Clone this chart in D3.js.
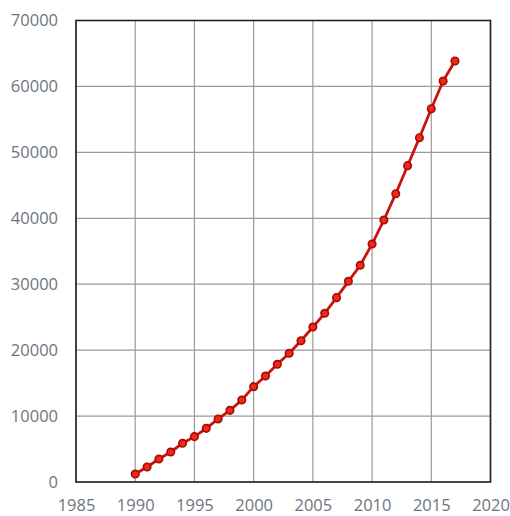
<html>
<script src='https://d3js.org/d3.v7.min.js'></script>
<style>
body {margin: 0; background: #fff;}
.tick text {font-family: 'Open Sans', sans-serif; font-size: 16.5px; fill: #6e7480;}
</style>
<body onload='init()'>
<svg width=510 height=516></svg>
<script>
var years = [1990, 1991, 1992, 1993, 1994, 1995, 1996, 1997, 1998, 1999,
             2000, 2001, 2002, 2003, 2004, 2005, 2006, 2007, 2008, 2009,
             2010, 2011, 2012, 2013, 2014, 2015, 2016, 2017];
var values = [1210, 2280, 3490, 4550, 5870, 6880, 8140, 9560, 10870, 12440,
              14460, 16080, 17850, 19520, 21430, 23500, 25590, 27960, 30440, 32870,
              36100, 39740, 43730, 47980, 52220, 56620, 60820, 63850];
var xTicks = [1985, 1990, 1995, 2000, 2005, 2010, 2015, 2020];
var yTicks = [0, 10000, 20000, 30000, 40000, 50000, 60000, 70000];

function init() {
    var left = 76, top = 20.5;
    var width = 414.5, height = 461.5;

    var x = d3.scaleLinear([1985, 2020], [0, width]);
    var y = d3.scaleLinear([0, 70000], [height, 0]);

    var svg = d3.select('svg');
    var g = svg.append('g').attr('transform', 'translate(' + left + ',' + top + ')');

    // grid
    g.selectAll('.vg').data(xTicks).enter().append('line')
        .attr('x1', d => x(d)).attr('x2', d => x(d))
        .attr('y1', 0).attr('y2', height)
        .attr('stroke', '#9a9a9a').attr('stroke-width', 1.2);
    g.selectAll('.hg').data(yTicks).enter().append('line')
        .attr('y1', d => y(d)).attr('y2', d => y(d))
        .attr('x1', 0).attr('x2', width)
        .attr('stroke', '#9a9a9a').attr('stroke-width', 1.2);

    g.append('rect').attr('width', width).attr('height', height)
        .attr('fill', 'none').attr('stroke', '#222').attr('stroke-width', 1.6);

    var xAxis = d3.axisBottom(x).tickValues(xTicks).tickFormat(d3.format('d')).tickSize(0).tickPadding(17);
    var yAxis = d3.axisLeft(y).tickValues(yTicks).tickFormat(d3.format('d')).tickSize(0).tickPadding(18);

    g.append('g').attr('transform', 'translate(0,' + height + ')').call(xAxis)
        .call(a => a.select('.domain').remove());
    g.append('g').call(yAxis).call(a => a.select('.domain').remove());

    var line = d3.line().x((d, i) => x(years[i])).y(d => y(d));
    g.append('path').datum(values).attr('d', line)
        .attr('fill', 'none').attr('stroke', '#c8140e').attr('stroke-width', 2.8);

    g.selectAll('circle').data(values).enter().append('circle')
        .attr('cx', (d, i) => x(years[i])).attr('cy', d => y(d)).attr('r', 3.7)
        .attr('fill', '#f02a1a').attr('stroke', '#a80a05').attr('stroke-width', 1.7);
}
</script>
</body>
</html>
